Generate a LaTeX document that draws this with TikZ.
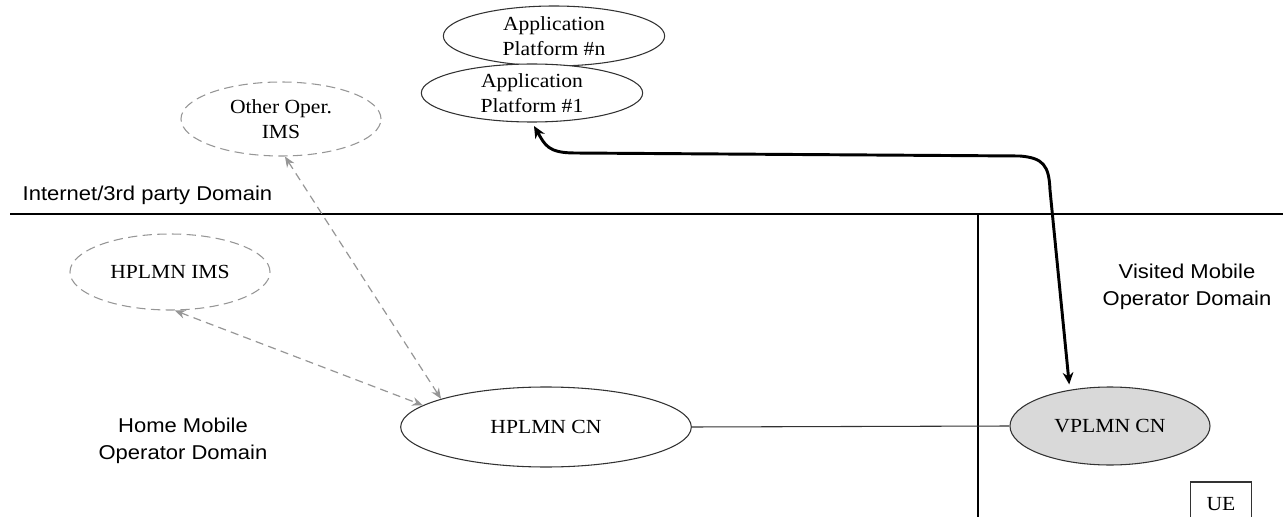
\documentclass[tikz,border=0pt]{standalone}
\usepackage{fontspec}
\setmainfont{Liberation Serif}[FakeStretch=1.08]
\setsansfont{Liberation Sans}[FakeStretch=1.1]
\usepackage{xcolor}
\usepackage{tikz}
\usetikzlibrary{shapes,arrows.meta}
\definecolor{dashgray}{RGB}{150, 150, 150}
\definecolor{cnfill}{RGB}{217, 217, 217}
\definecolor{edgegray}{RGB}{50, 50, 50}

\begin{document}
\begin{tikzpicture}[x=0.75pt, y=-0.75pt,
    platform/.style={ellipse, draw=edgegray, line width=0.8pt, inner sep=0pt, align=center, font=\fontsize{15}{18.5}\selectfont},
    imsnode/.style={platform, draw=dashgray, dash pattern=on 7pt off 4pt},
    domainlabel/.style={align=center, font=\sffamily\fontsize{15}{20}\selectfont},
    imslink/.style={dashgray, line width=0.9pt, dash pattern=on 6pt off 4pt, {Stealth[length=8pt,width=6.5pt]}-{Stealth[length=8pt,width=6.5pt]}},
    bearer/.style={line width=2.2pt, line join=round, {Stealth[length=9pt,width=8pt]}-{Stealth[length=9pt,width=8pt]}, shorten <=3pt, shorten >=4pt}]
    \useasboundingbox (0,0) rectangle (1283,517);

    \node[platform, minimum width=166pt, minimum height=45pt] (appn) at (554,36) {Application\\Platform \#n};
    \node[platform, fill=white, minimum width=166pt, minimum height=43.5pt] (appone) at (532,93) {Application\\Platform \#1};
    \node[imsnode, minimum width=150pt, minimum height=55.5pt] (otherims) at (281,119) {Other Oper.\\IMS};
    \node[imsnode, minimum width=150pt, minimum height=57pt] (homeims) at (170,272) {HPLMN IMS};
    \node[platform, minimum width=218pt, minimum height=60pt] (homecn) at (546,427) {HPLMN CN};
    \node[platform, fill=cnfill, minimum width=150pt, minimum height=58.5pt] (visitcn) at (1110,426) {VPLMN CN};
    \node[draw=edgegray, line width=0.8pt, minimum width=46pt, minimum height=33pt, font=\fontsize{15}{18.5}\selectfont] (ue) at (1221,504) {UE};

    \node[domainlabel, anchor=west] (inetlabel) at (18,195) {Internet/3rd party\ Domain};
    \node[domainlabel] (homelabel) at (183,441) {Home Mobile\\Operator Domain};
    \node[domainlabel] (visitlabel) at (1187,287) {Visited Mobile\\Operator Domain};

    \draw[line width=0.8pt] (10,214) -- (1283,214);
    \draw[line width=0.8pt] (978,214) -- (978,517);

    \draw[imslink] (otherims.-84) -- (homecn.165);
    \draw[imslink] (homeims.-83) -- (homecn.170);
    \draw[line width=0.8pt, edgegray] (homecn.east) -- (visitcn.west);
    \draw[bearer] (appone.south) .. controls (545,145) and (548,153) .. (575,153) -- (1020,156) .. controls (1043,158) and (1049,165) .. (1050,190) -- (visitcn.138);
\end{tikzpicture}
\end{document}
